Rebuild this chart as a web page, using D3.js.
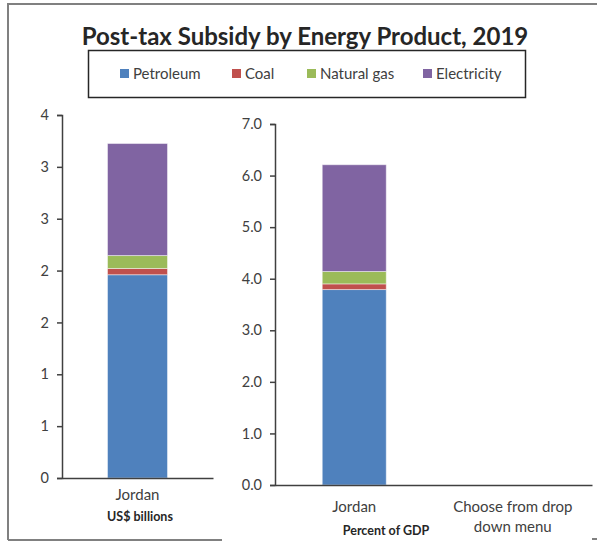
<!DOCTYPE html>
<html>
<head>
<meta charset="utf-8">
<script src="https://cdn.jsdelivr.net/npm/d3@7"></script>
<style>
  html, body { margin: 0; padding: 0; background: #fff; }
  svg { display: block; font-family: Lato, "Open Sans", sans-serif; }
</style>
</head>
<body>
<svg id="chart" width="597" height="542"></svg>
<script>
// Post-tax energy subsidy, split by product
const products = ["Petroleum", "Coal", "Natural gas", "Electricity"];
const productColors = ["#4F81BD", "#C0504D", "#9BBB59", "#8064A2"];

// US$ billions (left panel)
const usdCategories = ["Jordan"];
const usdPetroleum = [1.96];
const usdCoal = [0.06];
const usdGas = [0.125];
const usdElectricity = [1.08];
const usdTickValues = [0, 0.5, 1, 1.5, 2, 2.5, 3, 3.5];
const usdTickLabels = ["0", "1", "1", "2", "2", "3", "3", "4"];

// Percent of GDP (right panel); second slot is the empty drop-down choice
const gdpCategories = ["Jordan", "Choose from drop\ndown menu"];
const gdpPetroleum = [3.79, 0];
const gdpCoal = [0.11, 0];
const gdpGas = [0.24, 0];
const gdpElectricity = [2.07, 0];
const gdpTickValues = [0, 1, 2, 3, 4, 5, 6, 7];
const gdpTickLabels = ["0.0", "1.0", "2.0", "3.0", "4.0", "5.0", "6.0", "7.0"];

const title = "Post-tax Subsidy by Energy Product, 2019";

const svg = d3.select("#chart");
const axisColor = "#404040";
const textColor = "#404040";

// Outer frame
const frame = svg.append("g").attr("stroke", "#808080").attr("stroke-width", 2).attr("fill", "none");
frame.append("path").attr("d", "M8,540 L8,4 L597,4");
frame.append("line").attr("x1", 8).attr("x2", 222).attr("y1", 540).attr("y2", 540);
frame.append("line").attr("x1", 592).attr("x2", 597).attr("y1", 539).attr("y2", 539);

// Title
svg.append("text")
  .attr("x", 305).attr("y", 45)
  .attr("text-anchor", "middle")
  .attr("font-size", 24).attr("font-weight", 700)
  .attr("fill", "#262626")
  .text(title);

// Legend
svg.append("rect")
  .attr("x", 88.5).attr("y", 50.5).attr("width", 437).attr("height", 47)
  .attr("fill", "#fff").attr("stroke", "#262626").attr("stroke-width", 1.5);
const legendX = [120, 232, 307, 423];
const legend = svg.append("g");
products.forEach((p, i) => {
  legend.append("rect")
    .attr("x", legendX[i]).attr("y", 69).attr("width", 9).attr("height", 9)
    .attr("fill", productColors[i]);
  legend.append("text")
    .attr("x", legendX[i] + 13).attr("y", 78.5)
    .attr("font-size", 15).attr("fill", textColor)
    .text(p);
});

function stackRows(cats, series) {
  return cats.map((c, i) => {
    const row = { category: c };
    products.forEach((p, j) => row[p] = series[j][i]);
    return row;
  });
}

function panel(opts) {
  const { x0, x1, yTop, yBottom, yMax, cats, series, tickValues, tickLabels, barWidth, unitLabel, unitX, unitY, catY } = opts;
  const g = svg.append("g");
  const x = d3.scaleBand().domain(cats).range([x0, x1]);
  const y = d3.scaleLinear().domain([0, yMax]).range([yBottom, yTop]);

  const stacked = d3.stack().keys(products)(stackRows(cats, series));
  stacked.forEach((layer, j) => {
    g.append("g").selectAll("rect")
      .data(layer.filter(d => d[1] - d[0] > 0))
      .join("rect")
      .attr("x", d => x(d.data.category) + x.bandwidth() / 2 - barWidth / 2)
      .attr("width", barWidth)
      .attr("y", d => y(d[1]))
      .attr("height", d => y(d[0]) - y(d[1]))
      .attr("fill", productColors[j])
      .attr("stroke", "rgba(255,255,255,0.45)")
      .attr("stroke-width", 1);
  });

  // Value axis
  const yAxis = d3.axisLeft(y)
    .tickValues(tickValues)
    .tickFormat((d, i) => tickLabels[i])
    .tickSize(5).tickPadding(8);
  const ya = g.append("g").attr("transform", `translate(${x0},0)`).call(yAxis);
  ya.select(".domain").attr("stroke", axisColor).attr("stroke-width", 1.5);
  ya.selectAll(".tick line").attr("stroke", axisColor).attr("stroke-width", 1.5);
  ya.selectAll(".tick text").attr("fill", textColor).attr("font-size", 14.5).attr("font-family", "Lato, sans-serif");

  // Category axis
  const xAxis = d3.axisBottom(x).tickSize(0).tickPadding(0).tickFormat("");
  const xa = g.append("g").attr("transform", `translate(0,${yBottom})`).call(xAxis);
  xa.select(".domain").attr("stroke", axisColor).attr("stroke-width", 1.5);
  xa.selectAll(".tick").each(function(d) {
    const lines = d.split("\n");
    const t = d3.select(this).append("text")
      .attr("text-anchor", "middle").attr("fill", textColor)
      .attr("font-size", 15).attr("font-family", "Lato, sans-serif");
    lines.forEach((ln, k) => {
      t.append("tspan").attr("x", 0).attr("y", catY + k * 20).text(ln);
    });
  });

  g.append("text")
    .attr("x", unitX).attr("y", unitY)
    .attr("text-anchor", "middle")
    .attr("font-size", 12.5).attr("font-weight", 700).attr("fill", "#262626")
    .text(unitLabel);
}

panel({
  x0: 62, x1: 213, yTop: 115, yBottom: 478, yMax: 3.5,
  cats: usdCategories,
  series: [usdPetroleum, usdCoal, usdGas, usdElectricity],
  tickValues: usdTickValues, tickLabels: usdTickLabels,
  barWidth: 60, unitLabel: "US$ billions", unitX: 140, unitY: 521, catY: 22
});

panel({
  x0: 275, x1: 592, yTop: 124, yBottom: 485, yMax: 7,
  cats: gdpCategories,
  series: [gdpPetroleum, gdpCoal, gdpGas, gdpElectricity],
  tickValues: gdpTickValues, tickLabels: gdpTickLabels,
  barWidth: 64, unitLabel: "Percent of GDP", unitX: 386, unitY: 535, catY: 27
});
</script>
</body>
</html>
